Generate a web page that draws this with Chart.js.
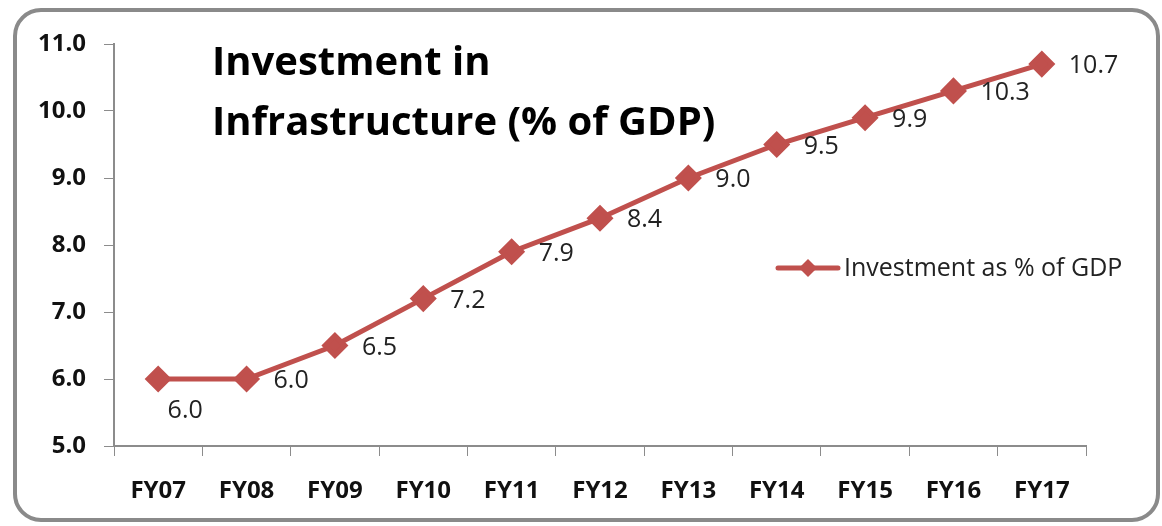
<!DOCTYPE html>
<html>
<head>
<meta charset="utf-8">
<script src="https://cdn.jsdelivr.net/npm/chart.js@4/dist/chart.umd.min.js"></script>
<style>
  html, body { margin: 0; padding: 0; background: #fff; }
  #wrap { position: relative; width: 1162px; height: 526px; }
  #frame {
    position: absolute; left: 13px; top: 8px; width: 1139px; height: 506px;
    border: 4px solid #8a8a8a; border-radius: 28px;
  }
  #title {
    position: absolute; left: 212px; top: 30px;
    font-family: "Open Sans", sans-serif; font-weight: bold; font-size: 40px;
    line-height: 60px; color: #000; white-space: nowrap;
  }
  canvas { position: absolute; left: 0; top: 0; }
</style>
</head>
<body>
<div id="wrap">
  <div id="frame"></div>
  <canvas id="chart" width="1162" height="526"></canvas>
  <div id="title">Investment in<br>Infrastructure (% of GDP)</div>
</div>
<script>
"use strict";
const years = ["FY07", "FY08", "FY09", "FY10", "FY11", "FY12", "FY13", "FY14", "FY15", "FY16", "FY17"];
const investment = [6.0, 6.0, 6.5, 7.2, 7.9, 8.4, 9.0, 9.5, 9.9, 10.3, 10.7];
const seriesName = "Investment as % of GDP";
const lineColor = "#C0504D";

// value labels next to each point; the first one sits below
const valueLabels = {
    id: 'valueLabels',
    afterDatasetsDraw(chart) {
        const ctx = chart.ctx;
        const meta = chart.getDatasetMeta(0);
        ctx.save();
        ctx.font = "25px 'Open Sans', sans-serif";
        ctx.fillStyle = "#222";
        ctx.textBaseline = "middle";
        meta.data.forEach((pt, i) => {
            const txt = investment[i].toFixed(1);
            if (i === 0) {
                ctx.textAlign = "center";
                ctx.fillText(txt, pt.x + 27, pt.y + 32);
            } else {
                ctx.textAlign = "left";
                ctx.fillText(txt, pt.x + 27, pt.y + 2);
            }
        });
        ctx.restore();
    }
};

// legend drawn inside the plot, on the right
const insideLegend = {
    id: 'insideLegend',
    afterDraw(chart) {
        const ctx = chart.ctx;
        const x = 778, y = 268;
        ctx.save();
        ctx.strokeStyle = lineColor;
        ctx.lineWidth = 5;
        ctx.lineCap = "round";
        ctx.beginPath();
        ctx.moveTo(x, y);
        ctx.lineTo(x + 60, y);
        ctx.stroke();
        ctx.fillStyle = lineColor;
        ctx.beginPath();
        ctx.moveTo(x + 30, y - 9);
        ctx.lineTo(x + 39, y);
        ctx.lineTo(x + 30, y + 9);
        ctx.lineTo(x + 21, y);
        ctx.closePath();
        ctx.fill();
        ctx.font = "25px 'Open Sans', sans-serif";
        ctx.fillStyle = "#222";
        ctx.textAlign = "left";
        ctx.textBaseline = "middle";
        ctx.fillText(seriesName, x + 66, y + 1);
        ctx.restore();
    }
};

new Chart(document.getElementById('chart'), {
    type: 'line',
    data: {
        labels: years,
        datasets: [{
            label: seriesName,
            data: investment,
            borderColor: lineColor,
            backgroundColor: lineColor,
            borderWidth: 5,
            pointStyle: 'rectRot',
            pointRadius: 10,
            pointHoverRadius: 10,
            tension: 0
        }]
    },
    options: {
        responsive: false,
        animation: false,
        layout: {
            padding: { left: 0, top: 44, right: 76, bottom: 0 }
        },
        scales: {
            x: {
                offset: true,
                afterFit: (scale) => { scale.height = 80; },
                grid: {
                    offset: true,
                    drawOnChartArea: false,
                    drawTicks: true,
                    tickLength: 10,
                    color: "#8c8c8c"
                },
                border: { color: "#8c8c8c", width: 2 },
                ticks: {
                    color: "#111",
                    padding: 21,
                    font: { family: "'Open Sans', sans-serif", size: 24, weight: "bold" }
                }
            },
            y: {
                min: 5,
                max: 11,
                afterFit: (scale) => { scale.width = 114; },
                grid: {
                    drawOnChartArea: false,
                    drawTicks: true,
                    tickLength: 10,
                    color: "#8c8c8c"
                },
                border: { color: "#8c8c8c", width: 2 },
                ticks: {
                    stepSize: 1,
                    color: "#111",
                    padding: 18,
                    font: { family: "'Open Sans', sans-serif", size: 24, weight: "bold" },
                    callback: (v) => Number(v).toFixed(1)
                }
            }
        },
        plugins: {
            legend: { display: false },
            title: { display: false },
            tooltip: { enabled: false }
        }
    },
    plugins: [valueLabels, insideLegend]
});
</script>
</body>
</html>
